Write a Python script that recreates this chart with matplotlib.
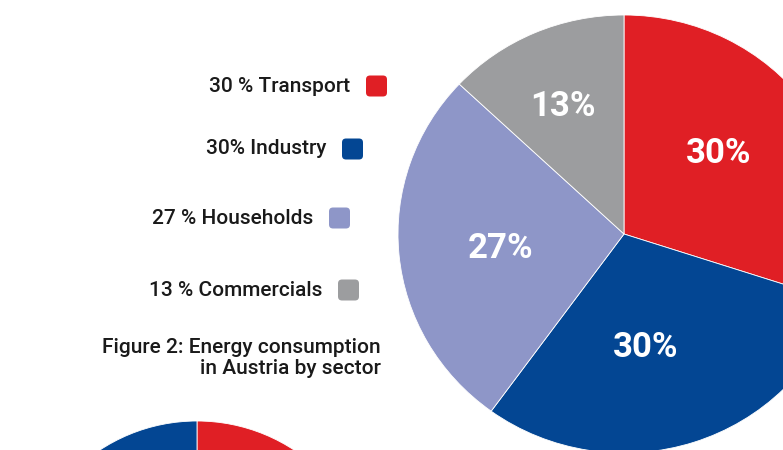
import numpy as np
import matplotlib.pyplot as plt
from matplotlib.patches import FancyBboxPatch

plt.rcParams['font.family'] = ['Roboto', 'DejaVu Sans']

# Energy consumption in Austria by sector (percent)
sectors = ['Transport', 'Industry', 'Households', 'Commercials']
shares = [30, 30, 27, 13]
legend_labels = ['30 % Transport', '30% Industry', '27 % Households', '13 % Commercials']
wedge_labels = ['30%', '30%', '27%', '13%']
colors = ['#E01F25', '#034693', '#8E96C8', '#9C9D9F']

# next figure's pie, only its top edge is on the page
next_shares = [50, 50]
next_colors = ['#E01F25', '#034693']

caption = 'Figure 2: Energy consumption\nin Austria by sector'

W, H = 783, 450
fig = plt.figure(figsize=(W / 100, H / 100), dpi=100)
ax = fig.add_axes([0, 0, 1, 1])

# main pie gets its own axes sized in pixels (slightly wider than tall)
cx, cy, rx, ry = 624, 216, 226, 219
pax = fig.add_axes([(cx - rx) / W, (cy - ry) / H, 2 * rx / W, 2 * ry / H])
wedges, _ = pax.pie(shares, colors=colors, startangle=90, counterclock=False,
                    radius=1,
                    wedgeprops=dict(edgecolor='white', linewidth=0.6,
                                    clip_on=False))
pax.set_xlim(-1, 1)
pax.set_ylim(-1, 1)
pax.set_aspect('auto')
pax.axis('off')

# label positions: fraction of radius and small angle nudge per wedge
label_rad = [0.557, 0.529, 0.552, 0.643]
label_nudge = [5.6, -7.4, 1.5, 1.4]
for w, txt, f, dn in zip(wedges, wedge_labels, label_rad, label_nudge):
    mid = np.deg2rad((w.theta1 + w.theta2) / 2 + dn)
    pax.text(f * np.cos(mid), f * np.sin(mid), txt,
             color='white', fontsize=25, fontweight='bold',
             ha='center', va='center')

# partial pie at the bottom left
ax.pie(next_shares, colors=next_colors, startangle=90, counterclock=False,
       center=(197, -148), radius=177,
       wedgeprops=dict(edgecolor='white', linewidth=0.6))

# legend: right-aligned labels with rounded swatches
text_right = [350, 326, 313, 322]
rows_y = [H - 86, H - 149, H - 218, H - 290]
sw = 21
for lab, col, xr, y in zip(legend_labels, colors, text_right, rows_y):
    ax.text(xr, y, lab, ha='right', va='center', fontsize=15,
            fontweight='medium', color='#1a1a1a')
    box = FancyBboxPatch((xr + 16, y - sw / 2), sw, sw,
                         boxstyle='round,pad=0,rounding_size=4',
                         facecolor=col, edgecolor='none')
    ax.add_patch(box)

ax.text(381, H - 358, caption, ha='right', va='center', fontsize=15,
        fontweight='medium', color='#1a1a1a', multialignment='right',
        linespacing=1.15)

ax.set_xlim(0, W)
ax.set_ylim(0, H)
ax.set_aspect('auto')
ax.axis('off')

fig.savefig('out.png', dpi=100)
